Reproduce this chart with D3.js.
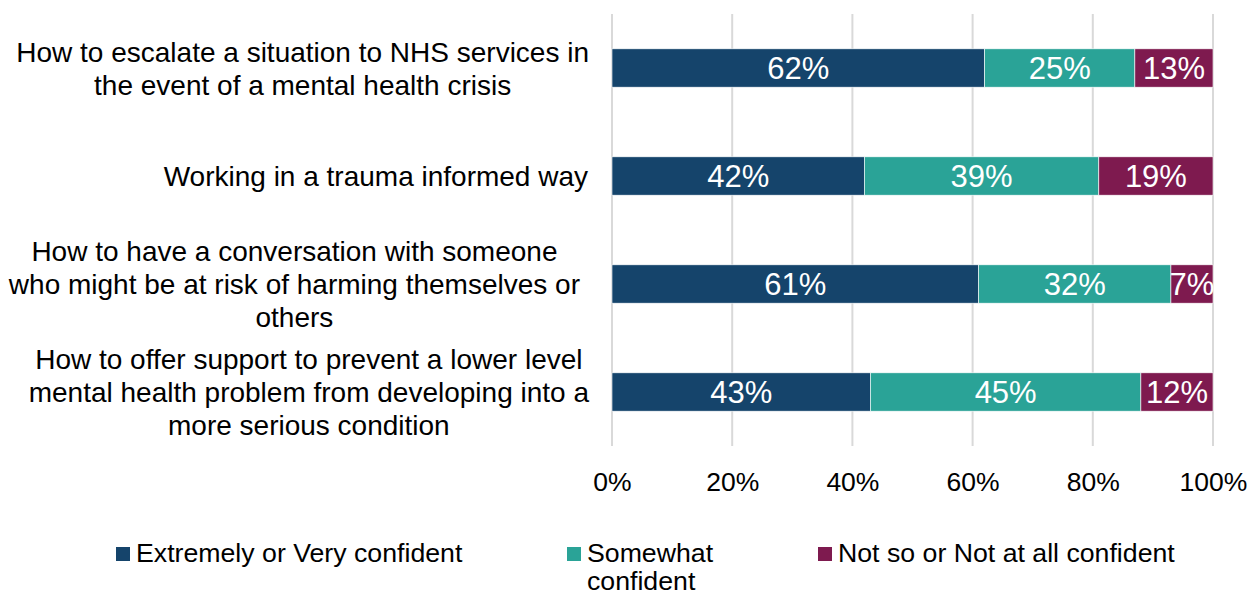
<!DOCTYPE html>
<html>
<head>
<meta charset="utf-8">
<script src="https://cdn.jsdelivr.net/npm/d3@7"></script>
<style>
  html, body { margin: 0; padding: 0; background: #fff; }
  svg { display: block; font-family: "Liberation Sans", Arial, sans-serif; }
</style>
</head>
<body>
<svg id="chart" width="1254" height="593"></svg>
<script>
// Survey items (top to bottom), each split into three confidence levels
const categories = [
  ["How to escalate a situation to NHS services in", "the event of a mental health crisis"],
  ["Working in a trauma informed way"],
  ["How to have a conversation with someone", "who might be at risk of harming themselves or", "others"],
  ["How to offer support to prevent a lower level", "mental health problem from developing into a", "more serious condition"]
];
const seriesNames = ["Extremely or Very confident", "Somewhat confident", "Not so or Not at all confident"];
const extremelyVery = [62, 42, 61, 43];
const somewhat = [25, 39, 32, 45];
const notConfident = [13, 19, 7, 12];
const tickValues = [0, 20, 40, 60, 80, 100];
const colors = ["#15446b", "#2aa397", "#7e1a4f"];

const svg = d3.select("#chart");
const plotLeft = 612, plotRight = 1213, plotTop = 14, plotBottom = 446;

const x = d3.scaleLinear().domain([0, 100]).range([plotLeft, plotRight]);
const y = d3.scaleBand().domain(d3.range(categories.length)).range([plotTop, plotBottom]).paddingInner(0.645).paddingOuter(0.3225);

// vertical gridlines
svg.append("g").selectAll("line").data(tickValues).join("line")
  .attr("x1", d => x(d)).attr("x2", d => x(d))
  .attr("y1", plotTop).attr("y2", plotBottom)
  .attr("stroke", "#d9d9d9").attr("stroke-width", 2);

// stacked bars
const rows = categories.map((c, i) => ({ i, vals: [extremelyVery[i], somewhat[i], notConfident[i]] }));
const stack = d3.stack().keys([0, 1, 2]).value((d, k) => d.vals[k]);
const layers = stack(rows);

const g = svg.append("g");
layers.forEach((layer, k) => {
  g.selectAll(null).data(layer).join("rect")
    .attr("x", d => x(d[0]))
    .attr("width", d => x(d[1]) - x(d[0]))
    .attr("y", d => y(d.data.i))
    .attr("height", y.bandwidth())
    .attr("fill", colors[k])
    .attr("stroke", "#ffffff").attr("stroke-width", 0.6);
  g.selectAll(null).data(layer).join("text")
    .attr("x", d => (x(d[0]) + x(d[1])) / 2)
    .attr("y", d => y(d.data.i) + y.bandwidth() / 2)
    .attr("dy", "0.36em")
    .attr("text-anchor", "middle")
    .attr("fill", "#ffffff")
    .attr("font-size", 31)
    .text(d => (d[1] - d[0]) + "%");
});

// category labels: each block is centred on itself, with its right edge near the plot
const lineH = 33;
const labelRight = [589, 588, 580, 589];
const lab = svg.append("g");
categories.forEach((lines, i) => {
  const cy = y(i) + y.bandwidth() / 2;
  const startY = cy - (lines.length - 1) * lineH / 2;
  const t = lab.append("text")
    .attr("text-anchor", "middle")
    .attr("font-size", 28)
    .attr("fill", "#000");
  const spans = lines.map((ln, j) =>
    t.append("tspan").attr("y", startY + j * lineH).attr("dy", "0.36em").text(ln));
  const maxW = d3.max(spans, s => s.node().getComputedTextLength());
  spans.forEach(s => s.attr("x", labelRight[i] - maxW / 2));
});

// x axis tick labels
const axis = d3.axisBottom(x).tickValues(tickValues).tickSize(0).tickPadding(0).tickFormat(d => d + "%");
const ax = svg.append("g").attr("transform", `translate(0, 472)`).call(axis);
ax.select(".domain").remove();
ax.selectAll("text").attr("font-size", 26.5).attr("fill", "#000")
  .attr("font-family", "Liberation Sans, Arial, sans-serif").attr("dy", "0.71em");

// legend
const legend = [
  { x: 116, lines: ["Extremely or Very confident"] },
  { x: 567, lines: ["Somewhat", "confident"] },
  { x: 818, lines: ["Not so or Not at all confident"] }
];
const lg = svg.append("g");
legend.forEach((d, k) => {
  lg.append("rect").attr("x", d.x).attr("y", 547).attr("width", 14).attr("height", 14).attr("fill", colors[k]);
  const t = lg.append("text").attr("font-size", 26.7).attr("fill", "#000");
  d.lines.forEach((ln, j) => {
    t.append("tspan").attr("x", d.x + 20).attr("y", 562 + j * 28).text(ln);
  });
});
</script>
</body>
</html>
